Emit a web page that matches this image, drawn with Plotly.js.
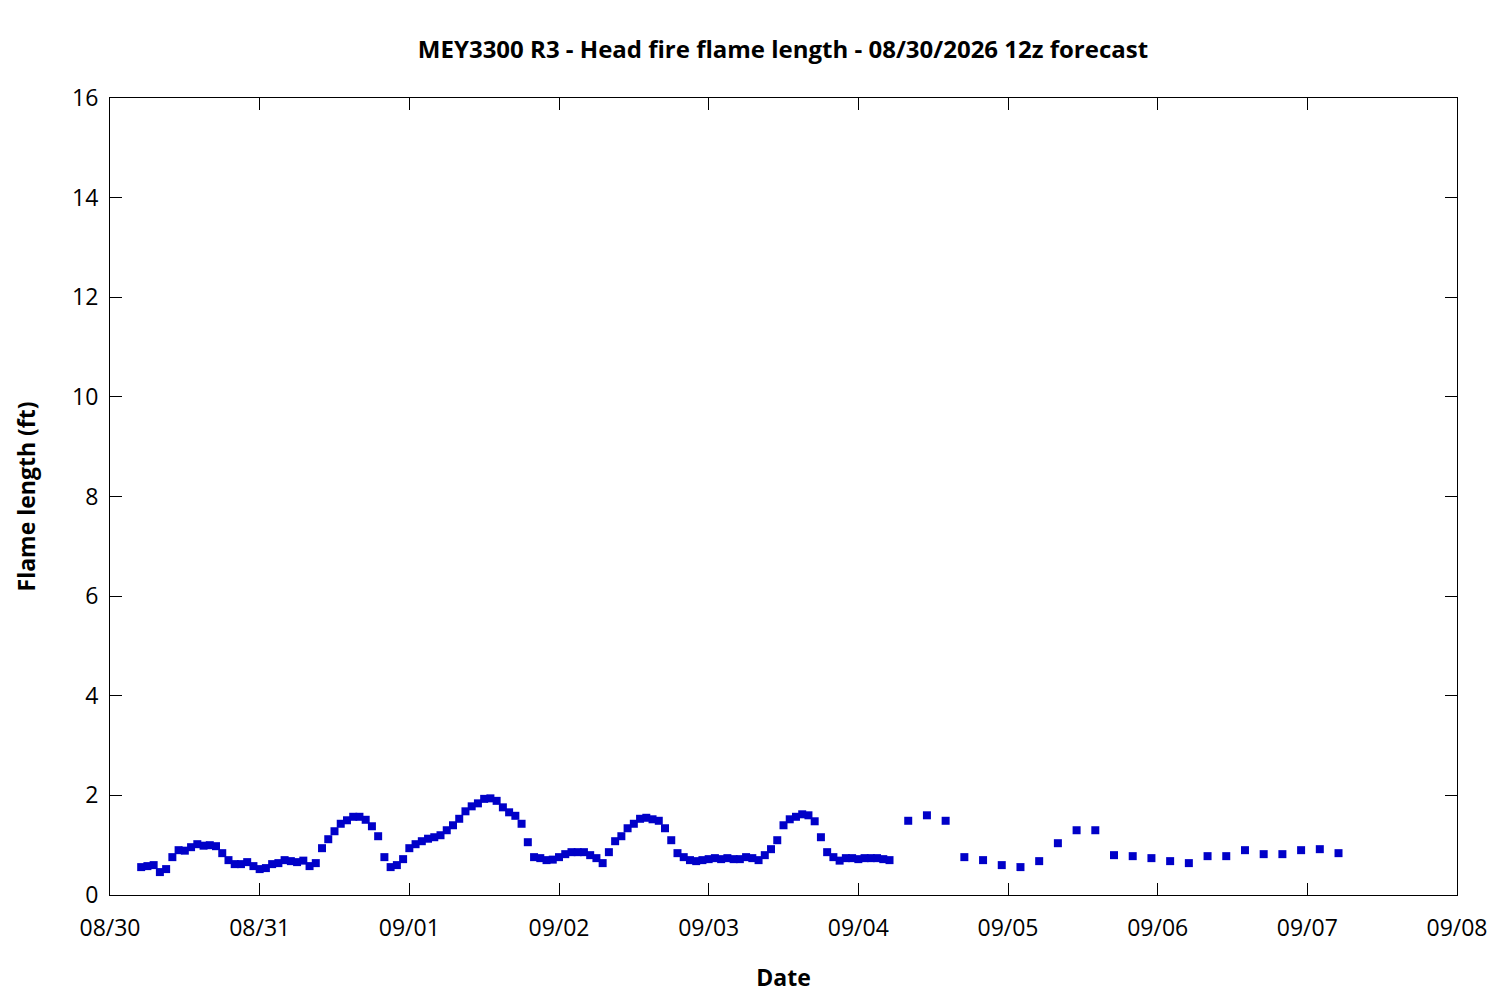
<!DOCTYPE html>
<html>
<head>
<meta charset="utf-8">
<script src="https://cdn.plot.ly/plotly-3.0.1.min.js"></script>
<style>
  body { margin: 0; background: #fff; }
  #plot-1 { width: 1500px; height: 1000px; }
</style>
</head>
<body>
<div id="plot-1"></div>
<script>
// hourly forecast values, starting 08/30 05:00
var hourlyStart = "2026-08-30T05:00:00";
var hourlyFlame = [
  0.56, 0.58, 0.60, 0.46, 0.52, 0.76, 0.90, 0.89, 0.96, 1.02,
  0.99, 1.00, 0.98, 0.84, 0.70, 0.62, 0.62, 0.66, 0.58, 0.52,
  0.54, 0.62, 0.64, 0.70, 0.68, 0.66, 0.69, 0.58, 0.64, 0.94,
  1.12, 1.28, 1.43, 1.50, 1.57, 1.57, 1.51, 1.38, 1.18, 0.76,
  0.56, 0.60, 0.72, 0.94, 1.02, 1.08, 1.13, 1.16, 1.20, 1.30,
  1.40, 1.53, 1.68, 1.78, 1.84, 1.93, 1.94, 1.89, 1.76, 1.66,
  1.59, 1.43, 1.06, 0.76, 0.74, 0.70, 0.71, 0.76, 0.82, 0.86,
  0.86, 0.86, 0.80, 0.74, 0.64, 0.86, 1.08, 1.18, 1.34, 1.43,
  1.53, 1.55, 1.52, 1.49, 1.34, 1.10, 0.84, 0.76, 0.70, 0.68,
  0.70, 0.72, 0.74, 0.72, 0.74, 0.72, 0.72, 0.76, 0.74, 0.70,
  0.80, 0.92, 1.10, 1.40, 1.52, 1.57, 1.62, 1.60, 1.48, 1.16,
  0.86, 0.76, 0.69, 0.74, 0.74, 0.72, 0.74, 0.74, 0.74, 0.72,
  0.70
];

// 3-hourly forecast values, starting 09/04 08:00
var threeHourlyStart = "2026-09-04T08:00:00";
var threeHourlyFlame = [
  1.49, 1.60, 1.49, 0.76, 0.70, 0.60, 0.56, 0.68, 1.04, 1.30,
  1.30, 0.80, 0.78, 0.74, 0.68, 0.64, 0.78, 0.78, 0.90, 0.82,
  0.82, 0.90, 0.92, 0.84
];

var dayTicks = ["2026-08-30", "2026-08-31", "2026-09-01", "2026-09-02", "2026-09-03",
                "2026-09-04", "2026-09-05", "2026-09-06", "2026-09-07", "2026-09-08"];
var dayLabels = ["08/30", "08/31", "09/01", "09/02", "09/03",
                 "09/04", "09/05", "09/06", "09/07", "09/08"];

function pad(n) { return (n < 10 ? "0" : "") + n; }

function stamps(start, stepHours, count) {
  var t0 = new Date(start + "Z").getTime();
  var out = [];
  for (var i = 0; i < count; i++) {
    var d = new Date(t0 + i * stepHours * 3600000);
    out.push(d.getUTCFullYear() + "-" + pad(d.getUTCMonth() + 1) + "-" + pad(d.getUTCDate()) +
             " " + pad(d.getUTCHours()) + ":00");
  }
  return out;
}

var x_values = stamps(hourlyStart, 1, hourlyFlame.length)
  .concat(stamps(threeHourlyStart, 3, threeHourlyFlame.length));
var y_values = hourlyFlame.concat(threeHourlyFlame);

var trace = {
  x: x_values,
  y: y_values,
  mode: 'markers',
  type: 'scatter',
  marker: { symbol: 'square', size: 8, color: '#0000c8' },
  hoverinfo: 'x+y'
};

var tickFont = { family: 'Open Sans, Noto Sans, sans-serif', size: 23, color: '#000' };
var labelFont = { family: 'Open Sans, Noto Sans, sans-serif', size: 23, color: '#000' };

var layout = {
  width: 1500,
  height: 1000,
  paper_bgcolor: '#fff',
  plot_bgcolor: '#fff',
  showlegend: false,
  font: { family: 'Open Sans, Noto Sans, sans-serif', color: '#000' },
  margin: { l: 110, r: 43, t: 98, b: 105 },
  title: {
    text: '<b>MEY3300 R3 - Head fire flame length - 08/30/2026 12z forecast</b>',
    font: { family: 'Open Sans, Noto Sans, sans-serif', size: 24, color: '#000' },
    x: 0.522, xanchor: 'center',
    y: 0.95, yanchor: 'middle'
  },
  xaxis: {
    type: 'date',
    range: [dayTicks[0], dayTicks[dayTicks.length - 1]],
    tickmode: 'array',
    tickvals: dayTicks,
    ticktext: dayLabels,
    ticks: 'inside',
    ticklen: 12,
    tickcolor: '#000',
    tickwidth: 1,
    ticklabelstandoff: 12,
    showline: true,
    linecolor: '#000',
    linewidth: 1,
    mirror: 'allticks',
    showgrid: false,
    zeroline: false,
    tickfont: tickFont,
    title: { text: '<b>Date</b>', font: labelFont, standoff: 28 }
  },
  yaxis: {
    range: [0, 16],
    dtick: 2,
    ticks: 'inside',
    ticklen: 12,
    tickcolor: '#000',
    tickwidth: 1,
    ticklabelstandoff: 6,
    showline: true,
    linecolor: '#000',
    linewidth: 1,
    mirror: 'allticks',
    showgrid: false,
    zeroline: false,
    tickfont: tickFont,
    title: { text: '<b>Flame length (ft)</b>', font: labelFont, standoff: 30 }
  }
};

Plotly.newPlot("plot-1", [trace], layout, { displayModeBar: false, staticPlot: true });
</script>
</body>
</html>
